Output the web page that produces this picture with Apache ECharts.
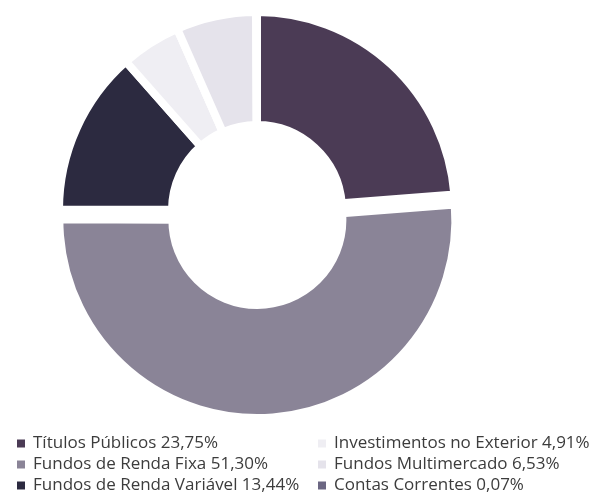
<!DOCTYPE html>
<html>
<head>
<meta charset="utf-8">
<script src="https://cdn.jsdelivr.net/npm/echarts@6/dist/echarts.min.js"></script>
<style>
html,body{margin:0;padding:0;background:#fff;}
#chart{width:592px;height:494px;}
</style>
</head>
<body>
<div id="chart"></div>
<script>
var categories = ['Títulos Públicos','Fundos de Renda Fixa','Fundos de Renda Variável','Investimentos no Exterior','Fundos Multimercado','Contas Correntes'];
var values = [23.75, 51.30, 13.44, 4.91, 6.53, 0.07];
var colors = ['#4b3b55','#8a8497','#2c2a40','#efeef3','#e5e3eb','#6b6682'];

var chart = echarts.init(document.getElementById('chart'));
var data = categories.map(function(c,i){
  return {name:c, value:values[i], selected: i===1, itemStyle:{color:colors[i]}};
});
function fmt(name){
  var i = categories.indexOf(name);
  return name + ' ' + values[i].toFixed(2).replace('.', ',') + '%';
}
var legendCommon = {
  orient:'vertical', icon:'rect', itemWidth:10, itemHeight:10, itemGap:4,
  height:80, padding:0,
  selectedMode:false, formatter: fmt,
  textStyle:{fontFamily:'Open Sans', fontSize:17, lineHeight:17, color:'#3c3c3c', padding:[0,0,0,2]}
};
chart.setOption({
  animation:false,
  legend:[
    Object.assign({left:15, top:435, data:categories.slice(0,3)}, legendCommon),
    Object.assign({left:316, top:435, data:categories.slice(3)}, legendCommon)
  ],
  series:[{
    type:'pie',
    center:[257,210],
    radius:[85,198],
    startAngle:90,
    clockwise:true,
    selectedMode:'multiple',
    selectedOffset:10,
    avoidLabelOverlap:false,
    label:{show:false},
    labelLine:{show:false},
    emphasis:{disabled:true},
    itemStyle:{borderColor:'#fff', borderWidth:8},
    data:data
  }]
});
</script>
</body>
</html>
